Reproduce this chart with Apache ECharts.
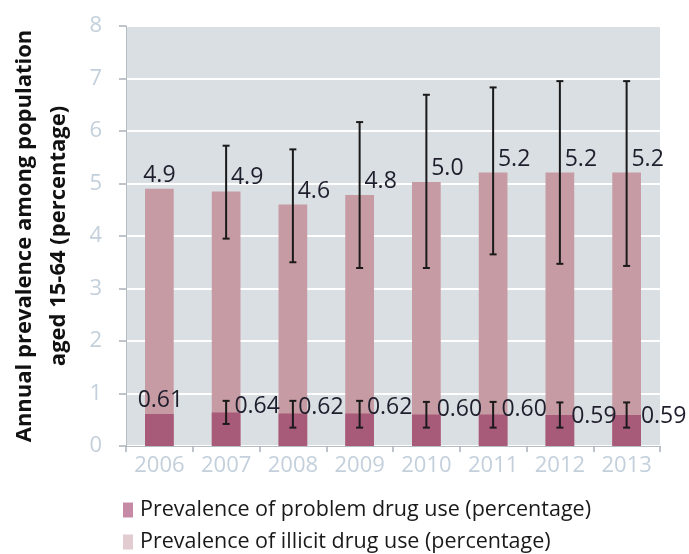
<!DOCTYPE html>
<html>
<head>
<meta charset="utf-8">
<script src="https://cdn.jsdelivr.net/npm/echarts@6/dist/echarts.min.js"></script>
<style>
html,body{margin:0;padding:0;background:#fff;}
#c{width:689px;height:554px;}
</style>
</head>
<body>
<div id="c"></div>
<script>
// ---- data ----
const years = ['2006','2007','2008','2009','2010','2011','2012','2013'];
const illicitValues = [4.9, 4.85, 4.6, 4.78, 5.03, 5.21, 5.21, 5.21];
const illicitLabels = ['4.9','4.9','4.6','4.8','5.0','5.2','5.2','5.2'];
const illicitLow  = [null, 3.95, 3.50, 3.39, 3.39, 3.65, 3.47, 3.43];
const illicitHigh = [null, 5.72, 5.65, 6.17, 6.69, 6.83, 6.95, 6.95];
const problemValues = [0.61, 0.64, 0.62, 0.62, 0.60, 0.60, 0.59, 0.59];
const problemLow  = [null, 0.42, 0.35, 0.35, 0.35, 0.35, 0.35, 0.35];
const problemHigh = [null, 0.86, 0.86, 0.86, 0.84, 0.84, 0.83, 0.83];
const yTicks = [0,1,2,3,4,5,6,7,8];
const seriesNames = ['Prevalence of problem drug use (percentage)', 'Prevalence of illicit drug use (percentage)'];
const yTitle = 'Annual prevalence among population\naged 15-64 (percentage)';

// ---- styles ----
const FONT = 'Open Sans';
const lightColor = '#c79ba3';
const darkColor = '#a85a79';
const labelColor = '#1e1e2c';
const problemLabelShift = [[1,-2],[31,6],[28,6],[30,6],[33,6],[31,6],[34,13],[37,13]];

const illicitData = illicitValues.map((v,i)=>({
  value: v,
  label: { offset: illicitLow[i]==null ? [0,0] : [21,0], formatter: illicitLabels[i] }
}));
const problemData = problemValues.map((v,i)=>({
  value: v,
  label: { offset: problemLabelShift[i] }
}));
const errData = [];
years.forEach((y,i)=>{
  if (illicitLow[i]!=null) errData.push([i, illicitLow[i], illicitHigh[i]]);
  if (problemLow[i]!=null) errData.push([i, problemLow[i], problemHigh[i]]);
});

function renderErr(params, api){
  const x = api.value(0);
  const lo = api.coord([x, api.value(1)]);
  const hi = api.coord([x, api.value(2)]);
  const cap = 3.5;
  const st = {stroke:'#1a1a1a', lineWidth:2};
  return {type:'group', children:[
    {type:'line', shape:{x1:hi[0],y1:hi[1],x2:lo[0],y2:lo[1]}, style:st},
    {type:'line', shape:{x1:hi[0]-cap,y1:hi[1],x2:hi[0]+cap,y2:hi[1]}, style:st},
    {type:'line', shape:{x1:lo[0]-cap,y1:lo[1],x2:lo[0]+cap,y2:lo[1]}, style:st}
  ]};
}

const chart = echarts.init(document.getElementById('c'), null, {renderer:'canvas'});
chart.setOption({
  animation:false,
  textStyle:{fontFamily:FONT},
  grid:{left:122, right:29, top:26, bottom:108, show:true, backgroundColor:'#d9dfe3', borderWidth:0},
  legend:{
    orient:'vertical', left:123, top:499, bottom:0, padding:0, itemWidth:10, itemHeight:15, itemGap:10,
    icon:'rect', selectedMode:false,
    textStyle:{fontFamily:FONT, fontSize:21.5, lineHeight:22, color:'#1a1a1a', padding:[0,0,0,2]},
    data:[
      {name:seriesNames[0], itemStyle:{color:'#c68aa6'}},
      {name:seriesNames[1], itemStyle:{color:'#e3cbd2'}}
    ]
  },
  xAxis:{
    type:'category', data:years,
    axisLine:{show:true, lineStyle:{color:'#b4bcc4', width:1}},
    axisTick:{show:true, length:6, lineStyle:{color:'#a9b1b9', width:1.5}},
    axisLabel:{interval:0, margin:9, color:'#c3d0dc', fontSize:22, fontFamily:FONT},
    splitLine:{show:false}
  },
  yAxis:{
    type:'value', min:0, max:8, interval:1,
    name: yTitle, nameLocation:'middle', nameRotate:90, nameGap:50,
    nameTextStyle:{fontFamily:FONT, fontWeight:'bold', fontSize:22, color:'#111', lineHeight:34},
    axisLine:{show:true, lineStyle:{color:'#b4bcc4', width:1}},
    axisTick:{show:true, length:7, lineStyle:{color:'#a9b1b9', width:1.5}},
    axisLabel:{margin:24, color:'#c3d0dc', fontSize:22, fontFamily:FONT,
      formatter:(v)=> yTicks.includes(v) ? String(v) : ''},
    splitLine:{show:true, lineStyle:{color:'#ffffff', width:2}}
  },
  series:[
    {
      name:seriesNames[1], type:'bar', data:illicitData, barWidth:'43%', barGap:'-100%',
      itemStyle:{color:lightColor}, z:2,
      label:{show:true, position:'top', distance:2, color:labelColor, fontSize:23, fontFamily:FONT}
    },
    {
      name:seriesNames[0], type:'bar', data:problemData, barWidth:'43%', barGap:'-100%',
      itemStyle:{color:darkColor}, z:3,
      label:{show:true, position:'top', distance:0, color:labelColor, fontSize:23, fontFamily:FONT,
        formatter:(p)=>p.value.toFixed(2)}
    },
    {
      type:'custom', renderItem:renderErr, data:errData, z:4,
      encode:{x:0, y:[1,2]}, silent:true
    }
  ]
});
</script>
</body>
</html>
